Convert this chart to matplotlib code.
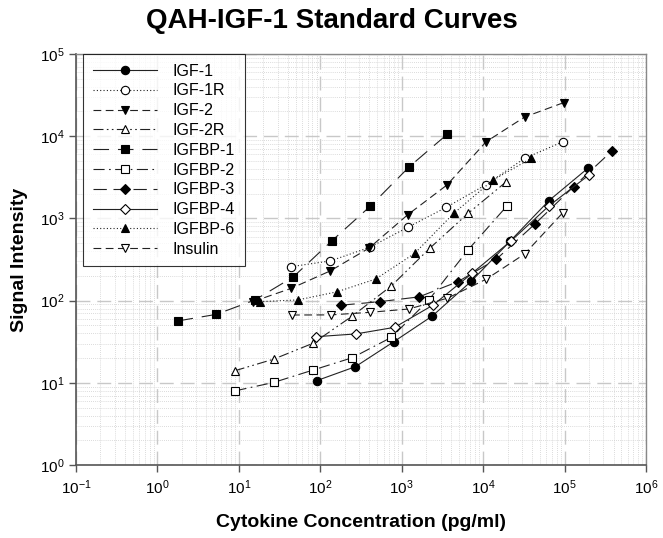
import matplotlib
matplotlib.use("Agg")
import matplotlib.pyplot as plt
from matplotlib.ticker import LogLocator, FixedLocator, LogFormatterSciNotation, NullFormatter

plt.rcParams["font.family"] = ["Liberation Sans", "DejaVu Sans"]
plt.rcParams["mathtext.fontset"] = "custom"
plt.rcParams["mathtext.rm"] = "Liberation Sans"
plt.rcParams["mathtext.it"] = "Liberation Sans:italic"
plt.rcParams["mathtext.bf"] = "Liberation Sans:bold"

# concentrations (pg/ml) and signal intensities
igf1_x = [90, 270, 800, 2380, 7160, 21500, 64100, 193000]
igf1_y = [10.6, 15.7, 31.6, 65, 172, 530, 1640, 4070]

igf1r_x = [44, 133, 405, 1190, 3530, 10700, 32300, 95500]
igf1r_y = [259, 304, 445, 780, 1365, 2550, 5380, 8570]

igf2_x = [14.8, 44, 133, 397, 1190, 3600, 10900, 32300, 97300]
igf2_y = [97, 141, 230, 435, 1110, 2550, 8570, 17100, 25600]

igf2r_x = [8.9, 26.8, 81.7, 248, 747, 2210, 6520, 19300]
igf2r_y = [14.0, 19.4, 30.3, 65, 151, 433, 1150, 2800]

igfbp1_x = [1.77, 5.28, 15.7, 46.9, 140, 414, 1240, 3640]
igfbp1_y = [56.5, 68, 101.6, 195, 538, 1415, 4250, 10600]

igfbp2_x = [9.1, 26.8, 81.7, 248, 747, 2160, 6520, 19600]
igfbp2_y = [8.0, 10.1, 14.3, 20.2, 35.7, 102, 413, 1415]

igfbp3_x = [182, 537, 1630, 4910, 14500, 42900, 129000, 385000]
igfbp3_y = [88, 97, 111, 170, 318, 848, 2430, 6670]

igfbp4_x = [89.8, 273, 820, 2420, 7280, 22200, 64100, 199000]
igfbp4_y = [36.4, 39.3, 47.3, 88, 214, 536, 1415, 3370]

igfbp6_x = [18.1, 53.5, 161, 480, 1445, 4350, 13200, 39000]
igfbp6_y = [97, 102, 128, 183, 376, 1150, 2930, 5380]

insulin_x = [45, 135, 405, 1220, 3640, 10900, 32300, 95500]
insulin_y = [66.8, 67, 72, 79, 107, 182, 369, 1175]

x_ticks = [1e-1, 1e0, 1e1, 1e2, 1e3, 1e4, 1e5, 1e6]
y_ticks = [1e0, 1e1, 1e2, 1e3, 1e4, 1e5]

# (label, x, y, marker, filled, dash pattern)
series = [
    ("IGF-1", igf1_x, igf1_y, "o", True, (None, None)),
    ("IGF-1R", igf1r_x, igf1r_y, "o", False, (0, (1, 2))),
    ("IGF-2", igf2_x, igf2_y, "v", True, (0, (7, 4))),
    ("IGF-2R", igf2r_x, igf2r_y, "^", False, (0, (9, 3, 1.5, 3, 1.5, 3))),
    ("IGFBP-1", igfbp1_x, igfbp1_y, "s", True, (0, (14, 8))),
    ("IGFBP-2", igfbp2_x, igfbp2_y, "s", False, (0, (10, 4, 1.5, 4))),
    ("IGFBP-3", igfbp3_x, igfbp3_y, "D", True, (0, (12, 6))),
    ("IGFBP-4", igfbp4_x, igfbp4_y, "D", False, (None, None)),
    ("IGFBP-6", igfbp6_x, igfbp6_y, "^", True, (0, (1, 2))),
    ("Insulin", insulin_x, insulin_y, "v", False, (0, (7, 4))),
]

fig = plt.figure(figsize=(6.63, 5.38), dpi=100)
ax = fig.add_axes([0.1146, 0.1357, 0.8597, 0.7639])

for label, xs, ys, mk, filled, ls in series:
    linestyle = "-" if ls[0] is None else ls
    ms = 5.0 if mk == "D" else 6.0
    ax.plot(xs, ys, linestyle=linestyle, color="#222222", linewidth=0.8,
            marker=mk, markersize=ms, markeredgewidth=0.8,
            markerfacecolor="black" if filled else "white",
            markeredgecolor="black", label=label, zorder=3)

ax.set_xscale("log")
ax.set_yscale("log")
ax.set_xlim(x_ticks[0], x_ticks[-1])
ax.set_ylim(y_ticks[0], y_ticks[-1])

ax.xaxis.set_major_locator(FixedLocator(x_ticks))
ax.yaxis.set_major_locator(FixedLocator(y_ticks))
ax.xaxis.set_major_formatter(LogFormatterSciNotation())
ax.yaxis.set_major_formatter(LogFormatterSciNotation())
ax.xaxis.set_minor_locator(LogLocator(base=10, subs=range(2, 10), numticks=20))
ax.yaxis.set_minor_locator(LogLocator(base=10, subs=range(2, 10), numticks=20))
ax.xaxis.set_minor_formatter(NullFormatter())
ax.yaxis.set_minor_formatter(NullFormatter())

ax.grid(which="major", color="#c8c8c8", linestyle=(0, (10, 5)), linewidth=1.0, zorder=0)
ax.grid(which="minor", color="#cfcfcf", linestyle=(0, (1, 1.5)), linewidth=0.6, zorder=0)
ax.set_axisbelow(True)

ax.tick_params(which="major", direction="out", length=5, width=1, colors="#555555",
               labelcolor="black", labelsize=11)
ax.tick_params(axis="x", which="major", pad=5)
ax.tick_params(which="minor", length=0)
for side in ["left", "bottom"]:
    ax.spines[side].set_color("#555555")
    ax.spines[side].set_linewidth(1.2)
for side in ["top", "right"]:
    ax.spines[side].set_color("#888888")
    ax.spines[side].set_linewidth(1.0)

ax.set_xlabel("Cytokine Concentration (pg/ml)", fontsize=14, fontweight="bold", labelpad=12)
ax.set_ylabel("Signal Intensity", fontsize=14, fontweight="bold", labelpad=8)
fig.suptitle("QAH-IGF-1 Standard Curves", fontsize=20, fontweight="bold", y=0.985)

leg = ax.legend(loc="upper left", bbox_to_anchor=(0.013, 1.0), fontsize=11.5,
                handlelength=4.0, handletextpad=1.0, borderpad=0.6,
                labelspacing=0.3, frameon=True, fancybox=False, borderaxespad=0)
leg.get_frame().set_edgecolor("black")
leg.get_frame().set_linewidth(0.8)
leg.set_zorder(5)

fig.savefig("out.png", dpi=100)
